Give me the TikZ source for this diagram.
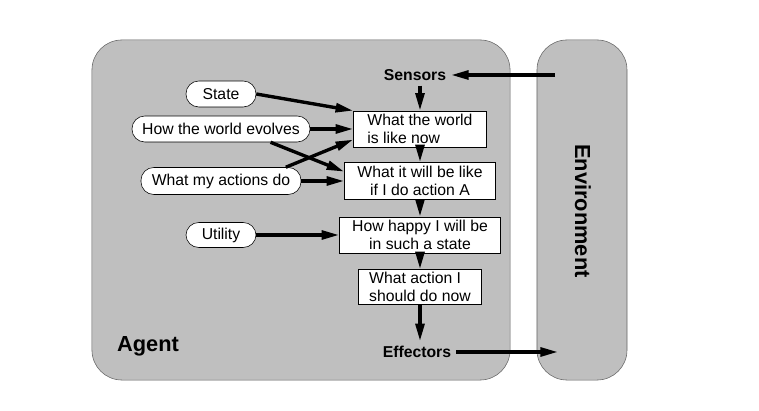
\documentclass[tikz,border=0pt]{standalone}
\usepackage{fontspec}
\setmainfont{Liberation Sans}
\usetikzlibrary{arrows.meta, positioning}

\begin{document}
\begin{tikzpicture}[
  x=0.025cm, y=-0.025cm,
  panel/.style={
    draw=black!60, fill=black!25, rounded corners=0.75cm,
    minimum height=8.5cm
  },
  stepbox/.style={
    draw, fill=white, inner sep=1pt,
    font=\fontsize{11.2}{12.3}\selectfont
  },
  oval/.style={
    draw, fill=white, rounded corners=0.32cm, inner sep=1pt,
    font=\fontsize{11.2}{12.3}\selectfont
  },
  arrow/.style={-{Triangle[length=0.44cm, width=0.22cm]}, line width=2.4pt}
]
\useasboundingbox (0,0) rectangle (759,411);

% ---- Agent and environment panels ----
\node[panel, minimum width=10.45cm] (agent) at (301,210) {};
\node[panel, minimum width=2.25cm] (env) at (582,210) {};

\node[font=\fontsize{15.5}{18}\selectfont\bfseries] (agentlbl) at (148,346) {Agent};
\node[font=\fontsize{15.5}{18}\selectfont\bfseries, rotate=-90] (envlbl)
  at (583,211) {Environment};

% ---- Sensors / effectors ----
\node[font=\fontsize{11.2}{12}\selectfont\bfseries] (sensors) at (415,75) {Sensors};
\node[font=\fontsize{11.2}{12}\selectfont\bfseries] (effectors) at (417,352) {Effectors};
\coordinate (envin) at (555,75);
\coordinate (envout) at (558,352);

% ---- Decision chain ----
\node[stepbox, align=left, minimum width=3.325cm, minimum height=0.9cm]
  (world) at (420,129) {What the world\\is like now};
\node[stepbox, align=center, minimum width=3.775cm, minimum height=0.925cm]
  (predict) at (420,181) {What it will be like\\if I do action A};
\node[stepbox, align=center, minimum width=4.025cm, minimum height=0.9cm]
  (happy) at (420,235) {How happy I will be\\in such a state};
\node[stepbox, align=left, minimum width=3.075cm, minimum height=0.875cm]
  (action) at (420,287) {What action I\\should do now};

% ---- Knowledge ----
\node[oval, minimum width=1.75cm, minimum height=0.65cm]
  (state) at (221,94) {State};
\node[oval, minimum width=4.45cm, minimum height=0.65cm]
  (evolves) at (221,129) {How the world evolves};
\node[oval, minimum width=4.0cm, minimum height=0.675cm]
  (actions) at (221,181) {What my actions do};
\node[oval, minimum width=1.75cm, minimum height=0.625cm]
  (utility) at (221,235) {Utility};

% ---- Arrows ----
\draw[arrow] (envin) -- (sensors.east);
\draw[arrow] (sensors.south -| world.north) -- (world);
\draw[arrow] (world) -- (predict);
\draw[arrow] (predict) -- (happy);
\draw[arrow] (happy) -- (action);
\draw[arrow] (action) -- (action |- effectors.north);
\draw[arrow] (effectors.east) -- (envout);

\draw[arrow] (state.east) -- (world.north west);
\draw[arrow] (evolves.east) -- (world.west);
\draw[arrow] (evolves.-15) -- (predict.173);
\draw[arrow] (actions.12) -- (world.189);
\draw[arrow] (actions.east) -- (predict.west);
\draw[arrow] (utility.east) -- (happy.west);

\end{tikzpicture}
\end{document}
